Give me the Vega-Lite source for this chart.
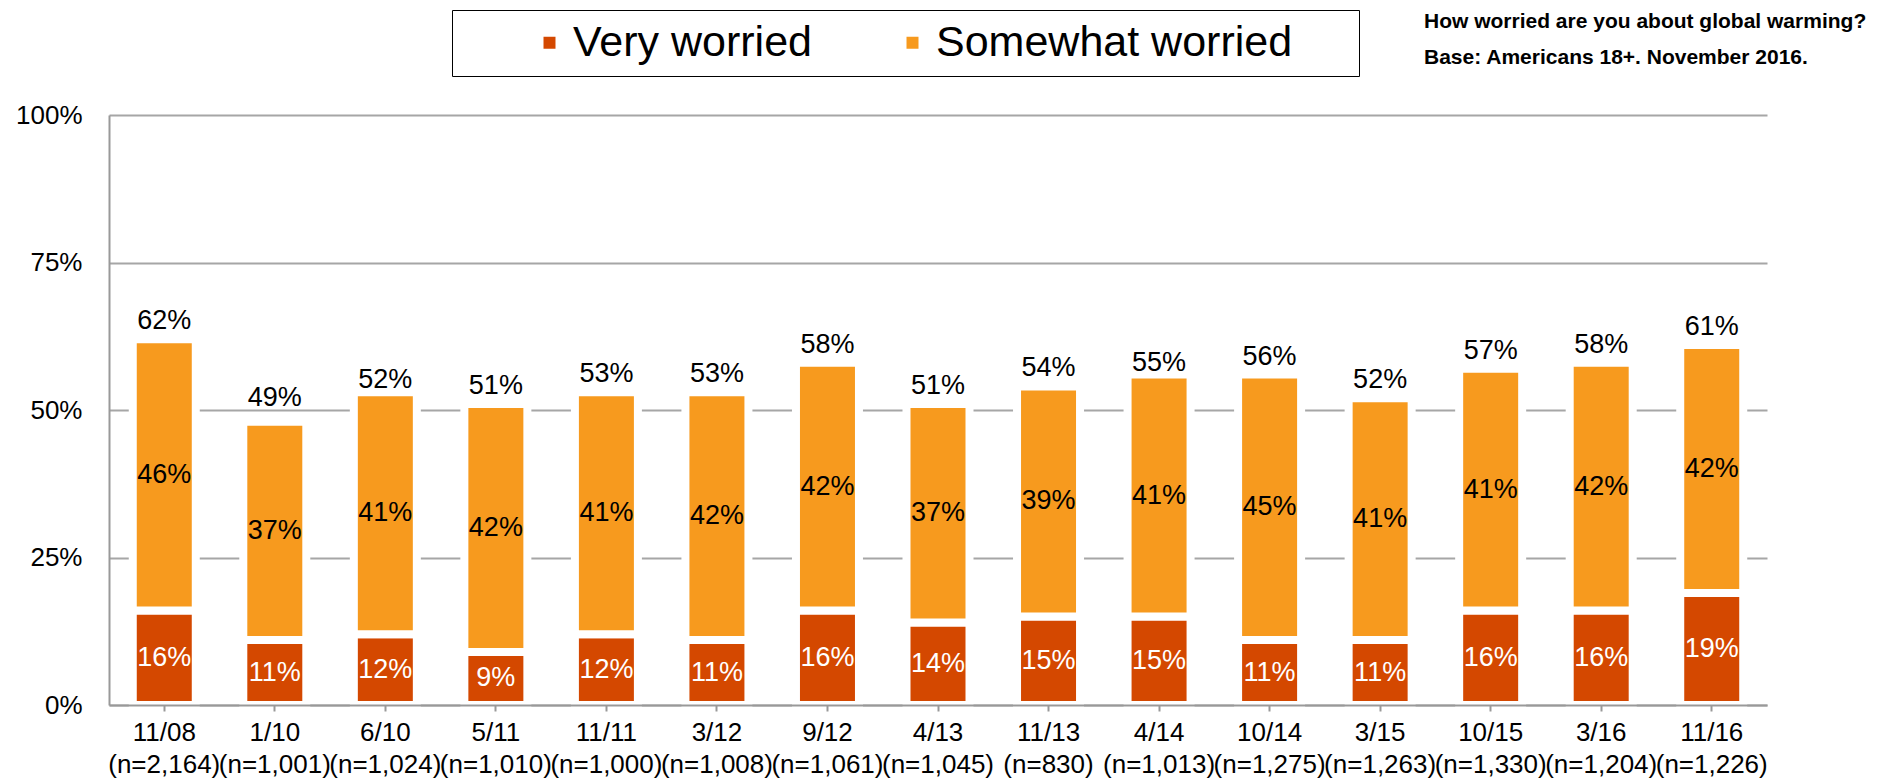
{
  "$schema": "https://vega.github.io/schema/vega-lite/v6.json",
  "width": 1658,
  "height": 590,
  "autosize": {"type": "none"},
  "padding": {"left": 109, "top": 115, "right": 128, "bottom": 76},
  "background": "white",
  "config": {"font": "Liberation Sans", "view": {"stroke": null}},
  "title": {
    "text": "How worried are you about global warming?",
    "subtitle": "Base: Americans 18+. November 2016.",
    "anchor": "start",
    "frame": "group",
    "dx": 1315,
    "dy": 58,
    "offset": 0,
    "font": "Liberation Sans",
    "fontSize": 21,
    "fontWeight": "bold",
    "color": "black",
    "subtitleFont": "Liberation Sans",
    "subtitleFontSize": 21,
    "subtitleFontWeight": "bold",
    "subtitleColor": "black",
    "subtitlePadding": 15
  },
  "data": {
    "values": [
      {"survey": "11/08|(n=2,164)", "category": "Very worried", "pct": 0.16, "total": 0.62},
      {"survey": "11/08|(n=2,164)", "category": "Somewhat worried", "pct": 0.46, "total": 0.62},
      {"survey": "1/10|(n=1,001)", "category": "Very worried", "pct": 0.11, "total": 0.49},
      {"survey": "1/10|(n=1,001)", "category": "Somewhat worried", "pct": 0.37, "total": 0.49},
      {"survey": "6/10|(n=1,024)", "category": "Very worried", "pct": 0.12, "total": 0.52},
      {"survey": "6/10|(n=1,024)", "category": "Somewhat worried", "pct": 0.41, "total": 0.52},
      {"survey": "5/11|(n=1,010)", "category": "Very worried", "pct": 0.09, "total": 0.51},
      {"survey": "5/11|(n=1,010)", "category": "Somewhat worried", "pct": 0.42, "total": 0.51},
      {"survey": "11/11|(n=1,000)", "category": "Very worried", "pct": 0.12, "total": 0.53},
      {"survey": "11/11|(n=1,000)", "category": "Somewhat worried", "pct": 0.41, "total": 0.53},
      {"survey": "3/12|(n=1,008)", "category": "Very worried", "pct": 0.11, "total": 0.53},
      {"survey": "3/12|(n=1,008)", "category": "Somewhat worried", "pct": 0.42, "total": 0.53},
      {"survey": "9/12|(n=1,061)", "category": "Very worried", "pct": 0.16, "total": 0.58},
      {"survey": "9/12|(n=1,061)", "category": "Somewhat worried", "pct": 0.42, "total": 0.58},
      {"survey": "4/13|(n=1,045)", "category": "Very worried", "pct": 0.14, "total": 0.51},
      {"survey": "4/13|(n=1,045)", "category": "Somewhat worried", "pct": 0.37, "total": 0.51},
      {"survey": "11/13|(n=830)", "category": "Very worried", "pct": 0.15, "total": 0.54},
      {"survey": "11/13|(n=830)", "category": "Somewhat worried", "pct": 0.39, "total": 0.54},
      {"survey": "4/14|(n=1,013)", "category": "Very worried", "pct": 0.15, "total": 0.55},
      {"survey": "4/14|(n=1,013)", "category": "Somewhat worried", "pct": 0.41, "total": 0.55},
      {"survey": "10/14|(n=1,275)", "category": "Very worried", "pct": 0.11, "total": 0.56},
      {"survey": "10/14|(n=1,275)", "category": "Somewhat worried", "pct": 0.45, "total": 0.56},
      {"survey": "3/15|(n=1,263)", "category": "Very worried", "pct": 0.11, "total": 0.52},
      {"survey": "3/15|(n=1,263)", "category": "Somewhat worried", "pct": 0.41, "total": 0.52},
      {"survey": "10/15|(n=1,330)", "category": "Very worried", "pct": 0.16, "total": 0.57},
      {"survey": "10/15|(n=1,330)", "category": "Somewhat worried", "pct": 0.41, "total": 0.57},
      {"survey": "3/16|(n=1,204)", "category": "Very worried", "pct": 0.16, "total": 0.58},
      {"survey": "3/16|(n=1,204)", "category": "Somewhat worried", "pct": 0.42, "total": 0.58},
      {"survey": "11/16|(n=1,226)", "category": "Very worried", "pct": 0.19, "total": 0.61},
      {"survey": "11/16|(n=1,226)", "category": "Somewhat worried", "pct": 0.42, "total": 0.61}
    ]
  },
  "encoding": {
    "x": {
      "field": "survey",
      "type": "nominal",
      "sort": null,
      "scale": {"paddingInner": 0.43, "paddingOuter": 0.215},
      "axis": {
        "title": null,
        "labelExpr": "split(datum.value, '|')",
        "labelAngle": 0,
        "labelFontSize": 26,
        "labelColor": "black",
        "labelLineHeight": 32,
        "labelPadding": 8,
        "domainColor": "#999999",
        "domainWidth": 2,
        "tickColor": "#999999",
        "tickWidth": 2,
        "tickSize": 6,
        "zindex": 1
      }
    }
  },
  "layer": [
    {
      "mark": {"type": "bar", "stroke": "white", "strokeWidth": 8},
      "encoding": {
        "y": {
          "field": "pct",
          "type": "quantitative",
          "stack": "zero",
          "scale": {"domain": [0, 1]},
          "axis": {
            "title": null,
            "format": ".0%",
            "values": [0, 0.25, 0.5, 0.75, 1],
            "labelFontSize": 26,
            "labelColor": "black",
            "labelPadding": 27,
            "ticks": false,
            "domainColor": "#999999",
            "domainWidth": 2,
            "gridColor": "#A6A6A6",
            "gridWidth": 2
          }
        },
        "color": {
          "field": "category",
          "type": "nominal",
          "scale": {"domain": ["Very worried", "Somewhat worried"], "range": ["#D44800", "#F79A1E"]},
          "legend": {
            "title": "\u00a0",
            "titleOrient": "right",
            "titleFontSize": 8,
            "titlePadding": 56,
            "orient": "none",
            "legendX": 343,
            "legendY": -105,
            "direction": "horizontal",
            "labelFontSize": 43,
            "labelColor": "black",
            "labelLimit": 600,
            "symbolType": "square",
            "symbolSize": 144,
            "symbolStrokeWidth": 0,
            "strokeColor": "black",
            "padding": 11,
            "symbolOffset": 65,
            "labelOffset": 2,
            "columnPadding": 14,
            "encode": {
              "legend": {"update": {"strokeWidth": {"value": 2}}},
              "symbols": {"update": {"strokeWidth": {"value": 0}}}
            }
          }
        },
        "order": {"field": "category", "sort": "descending"}
      }
    },
    {
      "mark": {"type": "text", "fontSize": 27, "baseline": "middle"},
      "encoding": {
        "y": {"field": "pct", "type": "quantitative", "stack": "zero", "bandPosition": 0.5},
        "detail": {"field": "category"},
        "order": {"field": "category", "sort": "descending"},
        "text": {"field": "pct", "type": "quantitative", "format": ".0%"},
        "color": {"condition": {"test": "datum.category === 'Very worried'", "value": "white"}, "value": "black"}
      }
    },
    {
      "transform": [{"filter": "datum.category === 'Somewhat worried'"}],
      "mark": {"type": "text", "fontSize": 27, "baseline": "alphabetic", "dy": -10, "color": "black"},
      "encoding": {
        "y": {"field": "total", "type": "quantitative"},
        "text": {"field": "total", "type": "quantitative", "format": ".0%"}
      }
    }
  ]
}
